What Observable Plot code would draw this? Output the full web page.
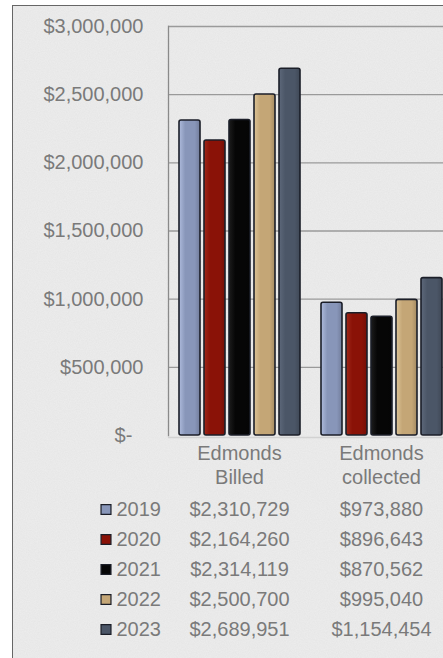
<!DOCTYPE html>
<html><head><meta charset="utf-8">
<script src="https://cdn.jsdelivr.net/npm/d3@7"></script>
<script src="https://cdn.jsdelivr.net/npm/@observablehq/plot@0.6"></script>
<style>
html,body{margin:0;padding:0;background:#ffffff;}
#wrap{position:relative;width:443px;height:658px;overflow:hidden;background:#ffffff;font-family:"Liberation Sans",Arial,sans-serif;}
#panel{position:absolute;left:12px;top:5px;width:460px;height:700px;border-left:1.5px solid #666;border-top:1.5px solid #666;background-color:#e6e6e6;}
#noise{position:absolute;left:0;top:0;width:100%;height:100%;}
#chart{position:absolute;left:0;top:0;}
#table{position:absolute;left:0;top:490px;}
svg{display:block;}
</style></head><body><div id="wrap"><div id="panel"><svg id="noise" xmlns="http://www.w3.org/2000/svg"><filter id="nf"><feTurbulence type="fractalNoise" baseFrequency="0.9" numOctaves="2" seed="3"/><feColorMatrix type="matrix" values="0 0 0 0 1  0 0 0 0 1  0 0 0 0 1  0 0 0 0.35 -0.05"/></filter><rect width="100%" height="100%" filter="url(#nf)"/></svg></div><div id="chart"></div><div id="table"></div></div>
<script>
const categories = ["Edmonds Billed", "Edmonds collected"];
const categoryLabels = ["Edmonds\nBilled", "Edmonds\ncollected"];
const years = ["2019", "2020", "2021", "2022", "2023"];
const billed = [2310729, 2164260, 2314119, 2500700, 2689951];
const collected = [973880, 896643, 870562, 995040, 1154454];
const yTicks = [0, 500000, 1000000, 1500000, 2000000, 2500000, 3000000];
const yearColors = ["#8896b9", "#8a1207", "#060606", "#c4a676", "#4b5667"];
const yearLights = ["#aebbdc", "#a0281a", "#1c1c1c", "#dcc497", "#5d687a"];

const rows = years.flatMap((y, i) => [
  {category: categories[0], year: y, value: billed[i]},
  {category: categories[1], year: y, value: collected[i]}
]);

const money = d3.format(",");
const fmt = d => d === 0 ? "$-\u2007" : "$" + money(d);
const textColor = "#7a7a7a";
const font = "Liberation Sans, Arial, sans-serif";

function addDefs(svg) {
  const ns = "http://www.w3.org/2000/svg";
  const defs = document.createElementNS(ns, "defs");
  yearColors.forEach((c, i) => {
    const g = document.createElementNS(ns, "linearGradient");
    g.setAttribute("id", "grad" + i);
    g.setAttribute("x1", "0"); g.setAttribute("x2", "1");
    g.setAttribute("y1", "0"); g.setAttribute("y2", "0");
    [[0, yearLights[i]], [0.3, c], [0.75, c], [1, d3.color(c).darker(0.5).formatHex()]].forEach(([o, col]) => {
      const s = document.createElementNS(ns, "stop");
      s.setAttribute("offset", o);
      s.setAttribute("stop-color", col);
      g.appendChild(s);
    });
    defs.appendChild(g);
  });
  svg.insertBefore(defs, svg.firstChild);
}

const chart = Plot.plot({
  width: 443, height: 490,
  marginLeft: 168, marginRight: -9, marginTop: 26, marginBottom: 55,
  style: {background: "transparent", fontFamily: font, fontSize: "20px", color: textColor, overflow: "hidden"},
  fx: {domain: categories, padding: 0, label: null},
  x: {domain: years, paddingInner: 0.176, paddingOuter: 0.372, axis: null},
  y: {domain: [0, 3000000], axis: null},
  color: {domain: years, range: years.map((_, i) => `url(#grad${i})`)},
  marks: [
    Plot.ruleY(yTicks.filter(d => d > 0), {stroke: "#9a9a9a", strokeWidth: 1.3, strokeOpacity: 1}),
    Plot.ruleY([0], {stroke: "#d2d2d2", strokeWidth: 1.5, dy: 2}),
    Plot.frame({anchor: "left", fx: [categories[0]], stroke: "#8a8a8a", strokeWidth: 1.3}),
    Plot.barY(rows, {fx: "category", x: "year", y: "value", fill: "year", stroke: "#1b1e28", strokeWidth: 1.6, rx: 2}),
    Plot.axisY({ticks: yTicks, tickSize: 0, tickPadding: 25, tickFormat: fmt, label: null, fontSize: 20, fill: textColor}),
    Plot.axisFx({anchor: "bottom", tickSize: 0, tickPadding: 8, label: null, fontSize: 20, fill: textColor, lineHeight: 1.17,
      tickFormat: d => categoryLabels[categories.indexOf(d)]})
  ]
});
addDefs(chart);
document.getElementById("chart").appendChild(chart);

const table = Plot.plot({
  width: 443, height: 168,
  marginLeft: 168, marginRight: -9, marginTop: 2, marginBottom: 12,
  style: {background: "transparent", fontFamily: font, fontSize: "20px", color: textColor, overflow: "hidden"},
  x: {type: "band", domain: categories, padding: 0, axis: null},
  y: {type: "band", domain: years, padding: 0, axis: null},
  color: {domain: years, range: yearColors},
  marks: [
    Plot.text(rows, {x: "category", y: "year", text: d => fmt(d.value), fontSize: 20, fill: textColor}),
    Plot.dot(years, {y: d => d, frameAnchor: "left", dx: -62.5, symbol: "square", r: 5.6, fill: d => d, stroke: "#1b1e28", strokeWidth: 1.2}),
    Plot.text(years, {y: d => d, text: d => d, frameAnchor: "left", textAnchor: "start", dx: -52, fontSize: 20, fill: textColor})
  ]
});
document.getElementById("table").appendChild(table);
</script>
</body></html>
